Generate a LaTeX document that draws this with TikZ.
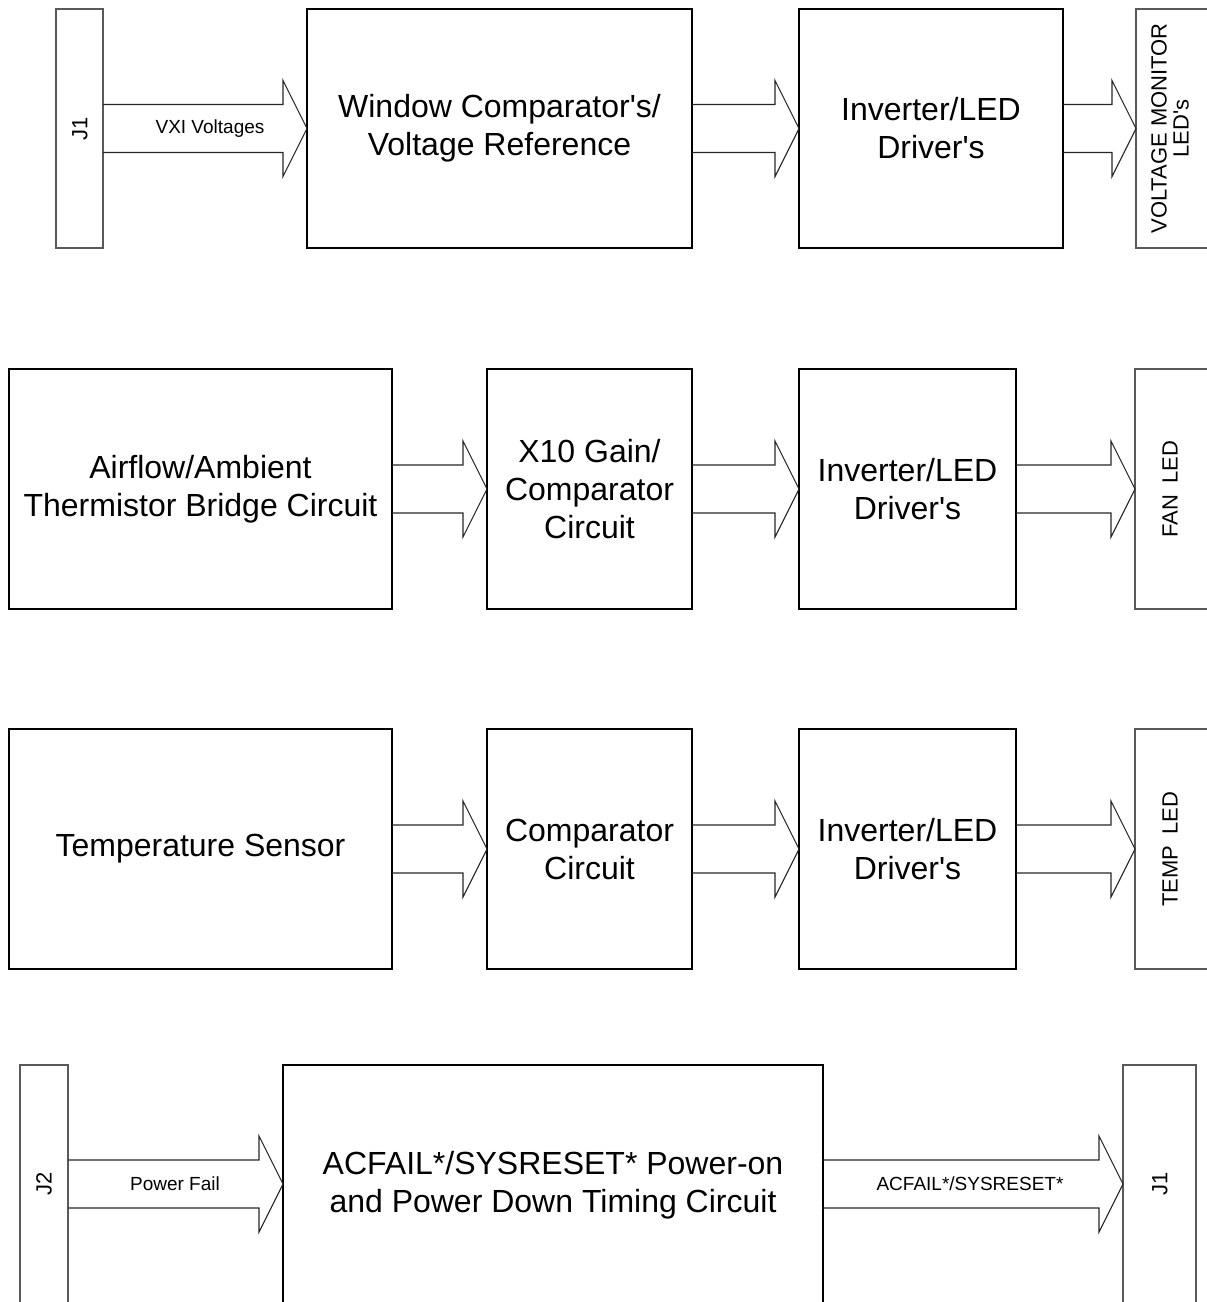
\documentclass[tikz,border=0pt]{standalone}
\usepackage{fontspec}
\setmainfont{Liberation Sans}
\usetikzlibrary{calc}
\tikzset{
  blk/.style={draw=black, line width=1.8pt, rectangle, outer sep=0pt, inner sep=0pt, align=center, font=\fontsize{32}{38}\selectfont},
  conn/.style={draw=black!65, line width=1.1pt, rectangle, outer sep=0pt, inner sep=0pt},
  connlbl/.style={rotate=90, align=center, font=\fontsize{22}{22}\selectfont, inner sep=0pt},
  arrowline/.style={draw=black!85, line width=1.1pt, line join=miter},
  arrowlbl/.style={font=\fontsize{19}{20}\selectfont, inner sep=0pt}
}
\newcommand{\barrow}[3]{%
  \path (#1.east |- 0,#3) coordinate (t0) (#2.west |- 0,#3) coordinate (t1);
  \draw[arrowline] ($(t0)+(0,-24)$) -- ($(t1)+(-24,-24)$) -- ($(t1)+(-24,-48)$) -- (t1)
     -- ($(t1)+(-24,48)$) -- ($(t1)+(-24,24)$) -- ($(t0)+(0,24)$);}
\newcommand{\apos}{\textquotesingle}
\begin{document}
\begin{tikzpicture}[x=1pt, y=-1pt]
\useasboundingbox (0,0) rectangle (1207,1302);
\clip (0,0) rectangle (1207,1302);
% Row 1
\node[conn, minimum width=47pt, minimum height=239pt] (j1a) at (79.5,128.5) {};
\node[connlbl] (j1alb) at (80,128.5) {J1};
\node[blk, minimum width=385pt, minimum height=239pt] (win) at (499.5,128.5) {Window Comparator\apos s/\\Voltage Reference};
\node[blk, minimum width=264pt, minimum height=239pt] (inv1) at (931,128.5) {Inverter/LED\\Driver\apos s};
\node[conn, minimum width=100pt, minimum height=239pt] (vmon) at (1186,128.5) {};
\node[connlbl] (vmonlb) at (1170,128.5) {VOLTAGE MONITOR\\LED\apos s};
\barrow{j1a}{win}{128.5}
\node[arrowlbl] (vxi) at (210,129) {VXI Voltages};
\barrow{win}{inv1}{128.5}
\barrow{inv1}{vmon}{128.5}
% Row 2
\node[blk, minimum width=383pt, minimum height=240pt] (air) at (200.5,489) {Airflow/Ambient\\Thermistor Bridge Circuit};
\node[blk, minimum width=205pt, minimum height=240pt] (x10) at (589.5,489) {X10 Gain/\\Comparator\\Circuit};
\node[blk, minimum width=217pt, minimum height=240pt] (inv2) at (907.5,489) {Inverter/LED\\Driver\apos s};
\node[conn, minimum width=100pt, minimum height=240pt] (fan) at (1185,489) {};
\node[connlbl] (fanlb) at (1170,489) {FAN\enspace LED};
\barrow{air}{x10}{489}
\barrow{x10}{inv2}{489}
\barrow{inv2}{fan}{489}
% Row 3
\node[blk, minimum width=383pt, minimum height=240pt] (temp) at (200.5,849) {Temperature Sensor};
\node[blk, minimum width=205pt, minimum height=240pt] (cmp) at (589.5,849) {Comparator\\Circuit};
\node[blk, minimum width=217pt, minimum height=240pt] (inv3) at (907.5,849) {Inverter/LED\\Driver\apos s};
\node[conn, minimum width=100pt, minimum height=240pt] (tled) at (1185,849) {};
\node[connlbl] (tledlb) at (1170,849) {TEMP\enspace LED};
\barrow{temp}{cmp}{849}
\barrow{cmp}{inv3}{849}
\barrow{inv3}{tled}{849}
% Row 4
\node[conn, minimum width=48pt, minimum height=240pt] (j2) at (44,1185) {};
\node[connlbl] (j2lb) at (44,1184) {J2};
\node[blk, minimum width=540pt, minimum height=240pt] (acf) at (553,1185) {ACFAIL*/SYSRESET* Power-on\\and Power Down Timing Circuit};
\node[conn, minimum width=73pt, minimum height=240pt] (j1b) at (1159.5,1185) {};
\node[connlbl] (j1blb) at (1160,1184) {J1};
\barrow{j2}{acf}{1184}
\node[arrowlbl] (pf) at (175,1184) {Power Fail};
\barrow{acf}{j1b}{1184}
\node[arrowlbl] (acl) at (970,1184) {ACFAIL*/SYSRESET*};
\end{tikzpicture}
\end{document}
